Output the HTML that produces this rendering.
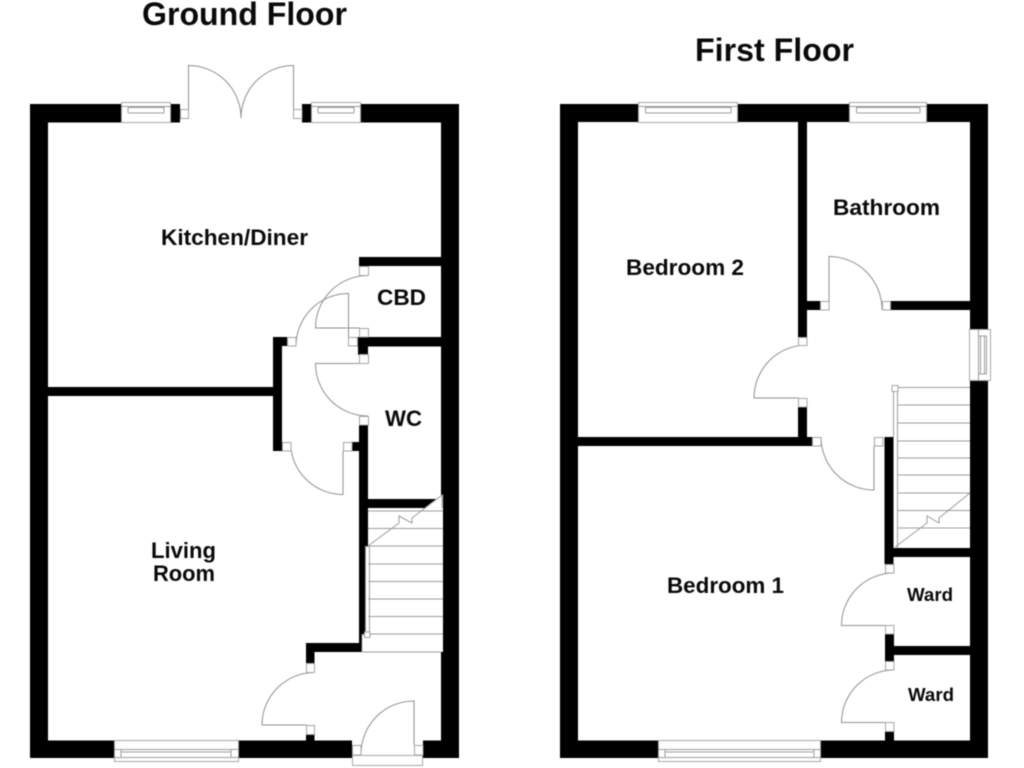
<!DOCTYPE html>
<html><head><meta charset="utf-8"><style>
html,body{margin:0;padding:0;background:#fff;width:1024px;height:768px;overflow:hidden}
svg{display:block;filter:blur(0.4px)}
text{font-family:"Liberation Sans",Arial,sans-serif;font-weight:bold;fill:#0a0a0a}
.l{fill:none;stroke:#9c9c9c;stroke-width:1}
.d{fill:none;stroke:#909090;stroke-width:1}
.j{fill:#fff;stroke:#a4a4a4;stroke-width:1}
.w{fill:#fff;stroke:#a8a8a8;stroke-width:1}
</style></head><body>
<svg width="1024" height="768" viewBox="0 0 1024 768" xmlns="http://www.w3.org/2000/svg">
<g fill="#000">
<!-- Ground floor walls -->
<rect x="30" y="104" width="18" height="654"/>
<rect x="441" y="104" width="18" height="654"/>
<rect x="30" y="104" width="150" height="18.5"/>
<rect x="302" y="104" width="157" height="18.5"/>
<rect x="30" y="740.5" width="322" height="17.5"/>
<rect x="423" y="740.5" width="36" height="17.5"/>
<rect x="359" y="257" width="82" height="9"/>
<rect x="358" y="337" width="83" height="9.5"/>
<rect x="358" y="337" width="10" height="18"/>
<rect x="48" y="387" width="225" height="9"/>
<rect x="273" y="337" width="9" height="114"/>
<rect x="273" y="337" width="14" height="9"/>
<rect x="359" y="425" width="9" height="227"/>
<rect x="352" y="442" width="8" height="9"/>
<rect x="368" y="499" width="74" height="9"/>
<rect x="306" y="643" width="56" height="9"/>
<rect x="306" y="643" width="8.5" height="20"/>
<rect x="306" y="734" width="8.5" height="8"/>
<!-- First floor walls -->
<rect x="560" y="104" width="18" height="654"/>
<rect x="970" y="104" width="18" height="654"/>
<rect x="560" y="104" width="428" height="18"/>
<rect x="560" y="740.5" width="428" height="17.5"/>
<rect x="798" y="122" width="9" height="215"/>
<rect x="807" y="301" width="13" height="9"/>
<rect x="890" y="301" width="80" height="9"/>
<rect x="798" y="407" width="9" height="32"/>
<rect x="578" y="437" width="234" height="9"/>
<rect x="884.500" y="437" width="9" height="127"/>
<rect x="885" y="548" width="85" height="9"/>
<rect x="885" y="634" width="9" height="27"/>
<rect x="894" y="646" width="76" height="9"/>
<rect x="885" y="732" width="9" height="9"/>
</g>

<!-- Ground floor windows -->
<g>
<rect class="w" x="121.5" y="102.5" width="49" height="20"/>
<path class="l" d="M121.5 106.500H170.500M128 107V113M164 107V113M128 107.500H164M128 113H164"/>
<rect class="w" x="311.5" y="102.5" width="49" height="20"/>
<path class="l" d="M311.5 106.500H360.500M318 107V113M354 107V113M318 107.500H354M318 113H354"/>
<rect class="w" x="114.5" y="740.5" width="124" height="21"/>
<path class="l" d="M114.5 757.500H238.500M121 749V757M231 749V757M114.5 749.500H238.500M121 752H231"/>
<!-- Threshold -->
<rect x="352" y="740" width="71" height="15" fill="#fff"/>
<rect class="w" x="352.5" y="755.5" width="70" height="10"/>
</g>

<!-- First floor windows -->
<g>
<rect class="w" x="638.5" y="102.5" width="99" height="20"/>
<path class="l" d="M638.5 106.500H737.500M645.5 106V113M731 106V113M645.5 107.500H731M645.5 113H731"/>
<rect class="w" x="849.5" y="102.5" width="77" height="20"/>
<path class="l" d="M849.5 106.500H926.500M856.5 106V113M920 106V113M856.5 107.500H920M856.5 113H920"/>
<rect class="w" x="658.5" y="740.5" width="162" height="21"/>
<path class="l" d="M658.5 757.500H820.500M665 749V757M814 749V757M658.5 749.500H820.500M665 752H814"/>
<rect class="w" x="969.5" y="329.5" width="21" height="51"/>
<path class="l" d="M978.500 329.500V380.500M980.500 336V374M984.500 336V374M978.500 336H986.500M978.500 374H986.500M986.500 336V374"/>
</g>

<!-- Ground doors: arcs first, jambs on top -->
<g>
<path class="d" d="M188.5 118V65.500A52.500 52.500 0 0 1 241 118A52.500 52.500 0 0 1 293.500 65.500V118"/>
<path class="d" d="M368 275.500A52.500 52.500 0 0 0 315.500 328H359.500"/>
<path class="d" d="M296 346A52.500 52.500 0 0 1 348.500 293.500V337.500"/>
<path class="d" d="M359.500 363.500H315.500A52.500 52.500 0 0 0 368 416"/>
<path class="d" d="M290.500 442A52.500 52.500 0 0 0 343 494.500V451"/>
<path class="d" d="M314.500 672.500A52.500 52.500 0 0 0 262 725H306.500"/>
<path class="d" d="M361 754A53 53 0 0 1 414 701V745"/>
<rect class="j" x="180.5" y="109.5" width="8" height="9"/>
<rect class="j" x="293.5" y="109.5" width="8.500" height="9"/>
<rect class="j" x="359.500" y="266.500" width="9" height="9"/>
<rect class="j" x="359.500" y="328.500" width="9" height="8.500"/>
<rect class="j" x="287.500" y="337.500" width="8.500" height="8.500"/>
<rect class="j" x="348.500" y="337.500" width="9" height="8.500"/>
<rect class="j" x="359.500" y="354.500" width="9" height="9"/>
<rect class="j" x="359.500" y="416.500" width="9" height="8.500"/>
<rect class="j" x="282.500" y="442.500" width="8.500" height="8.500"/>
<rect class="j" x="343.500" y="442.500" width="8.500" height="8.500"/>
<rect class="j" x="306.500" y="663.500" width="8" height="9"/>
<rect class="j" x="306.500" y="725.500" width="8" height="9"/>
<rect class="j" x="352.500" y="745.500" width="8.500" height="9.500"/>
<rect class="j" x="414.500" y="745.500" width="8.500" height="9.500"/>
</g>

<!-- Ground stairs -->
<g>
<rect x="441" y="495" width="2" height="157" fill="#fff"/>
<polygon points="442.500,495 412,518 412,508 442.500,508" fill="#fff"/>
<rect x="412" y="508" width="31" height="3" fill="#fff"/>
<rect x="365" y="546" width="5" height="88" fill="#fff"/>
<path class="l" d="M368 511H443M368 528.500H443M368 546H443M368 564H443M368 581.500H443M368 599H443M368 616.500H443M368 634H443M362 652H441"/>
<path class="l" d="M368 546L399 523V516L412 523V518L442 495V508"/>
<path class="l" d="M369.500 546.500V634M365.500 546.500V634M365.500 546.500H369.500"/>
<rect x="362" y="634.500" width="6" height="17" fill="#fff"/>
<path class="l" d="M362 634.500V652M362 634.500H368"/>
<rect class="j" x="364.500" y="632" width="5.500" height="5.500"/>
</g>

<!-- First doors -->
<g>
<path class="d" d="M829 301.500V256.500A53 53 0 0 1 882 309.500"/>
<path class="d" d="M807 345A53 53 0 0 0 754 398H798.500"/>
<path class="d" d="M821 437A53 53 0 0 0 874 490V446"/>
<path class="d" d="M894 573A52.500 52.500 0 0 0 841.500 625.500H885.500"/>
<path class="d" d="M894 670A52.500 52.500 0 0 0 841.500 722.500H885.500"/>
<rect class="j" x="820.500" y="301.500" width="8.500" height="8.500"/>
<rect class="j" x="882.500" y="301.500" width="8" height="8.500"/>
<rect class="j" x="798.500" y="337.500" width="8.500" height="8"/>
<rect class="j" x="798.500" y="398.500" width="8.500" height="8.500"/>
<rect class="j" x="812.500" y="437.500" width="8.500" height="8.500"/>
<rect class="j" x="874.500" y="437.500" width="8.500" height="8.500"/>
<rect class="j" x="885.500" y="564.500" width="8.500" height="8.500"/>
<rect class="j" x="885.500" y="625.500" width="8.500" height="8.500"/>
<rect class="j" x="885.500" y="661.500" width="8.500" height="8.500"/>
<rect class="j" x="885.500" y="722.500" width="8.500" height="9"/>
</g>

<!-- First stairs -->
<g>
<path class="l" d="M893 387.500H970M897 405H970M897 423H970M897 441H970M897 458H970M897 475H970M897 493H970M897 510.500H970M897 528H970"/>
<path class="l" d="M893.500 388V437M897.500 388V548"/>
<rect class="j" x="892" y="385.500" width="6" height="6"/>
<path class="l" d="M895 547L927 523V516L939 523V518L970 493"/>
</g>

<!-- Labels -->
<text x="142" y="25" font-size="32" textLength="205" lengthAdjust="spacingAndGlyphs">Ground Floor</text>
<text x="695" y="61" font-size="32" textLength="159" lengthAdjust="spacingAndGlyphs">First Floor</text>
<text x="161" y="245" font-size="22.6" textLength="147" lengthAdjust="spacingAndGlyphs">Kitchen/Diner</text>
<text x="377" y="305" font-size="22.6" textLength="49" lengthAdjust="spacingAndGlyphs">CBD</text>
<text x="385" y="426" font-size="22.6" textLength="37" lengthAdjust="spacingAndGlyphs">WC</text>
<text x="151" y="558" font-size="22.6" textLength="65" lengthAdjust="spacingAndGlyphs">Living</text>
<text x="153" y="581" font-size="22.6" textLength="62" lengthAdjust="spacingAndGlyphs">Room</text>
<text x="833" y="215" font-size="22.6" textLength="107" lengthAdjust="spacingAndGlyphs">Bathroom</text>
<text x="626" y="275" font-size="22.6" textLength="118" lengthAdjust="spacingAndGlyphs">Bedroom 2</text>
<text x="667" y="593" font-size="22.6" textLength="117" lengthAdjust="spacingAndGlyphs">Bedroom 1</text>
<text x="907" y="601" font-size="18.4" textLength="46" lengthAdjust="spacingAndGlyphs">Ward</text>
<text x="908" y="701" font-size="18.4" textLength="46" lengthAdjust="spacingAndGlyphs">Ward</text>
</svg>
</body></html>
